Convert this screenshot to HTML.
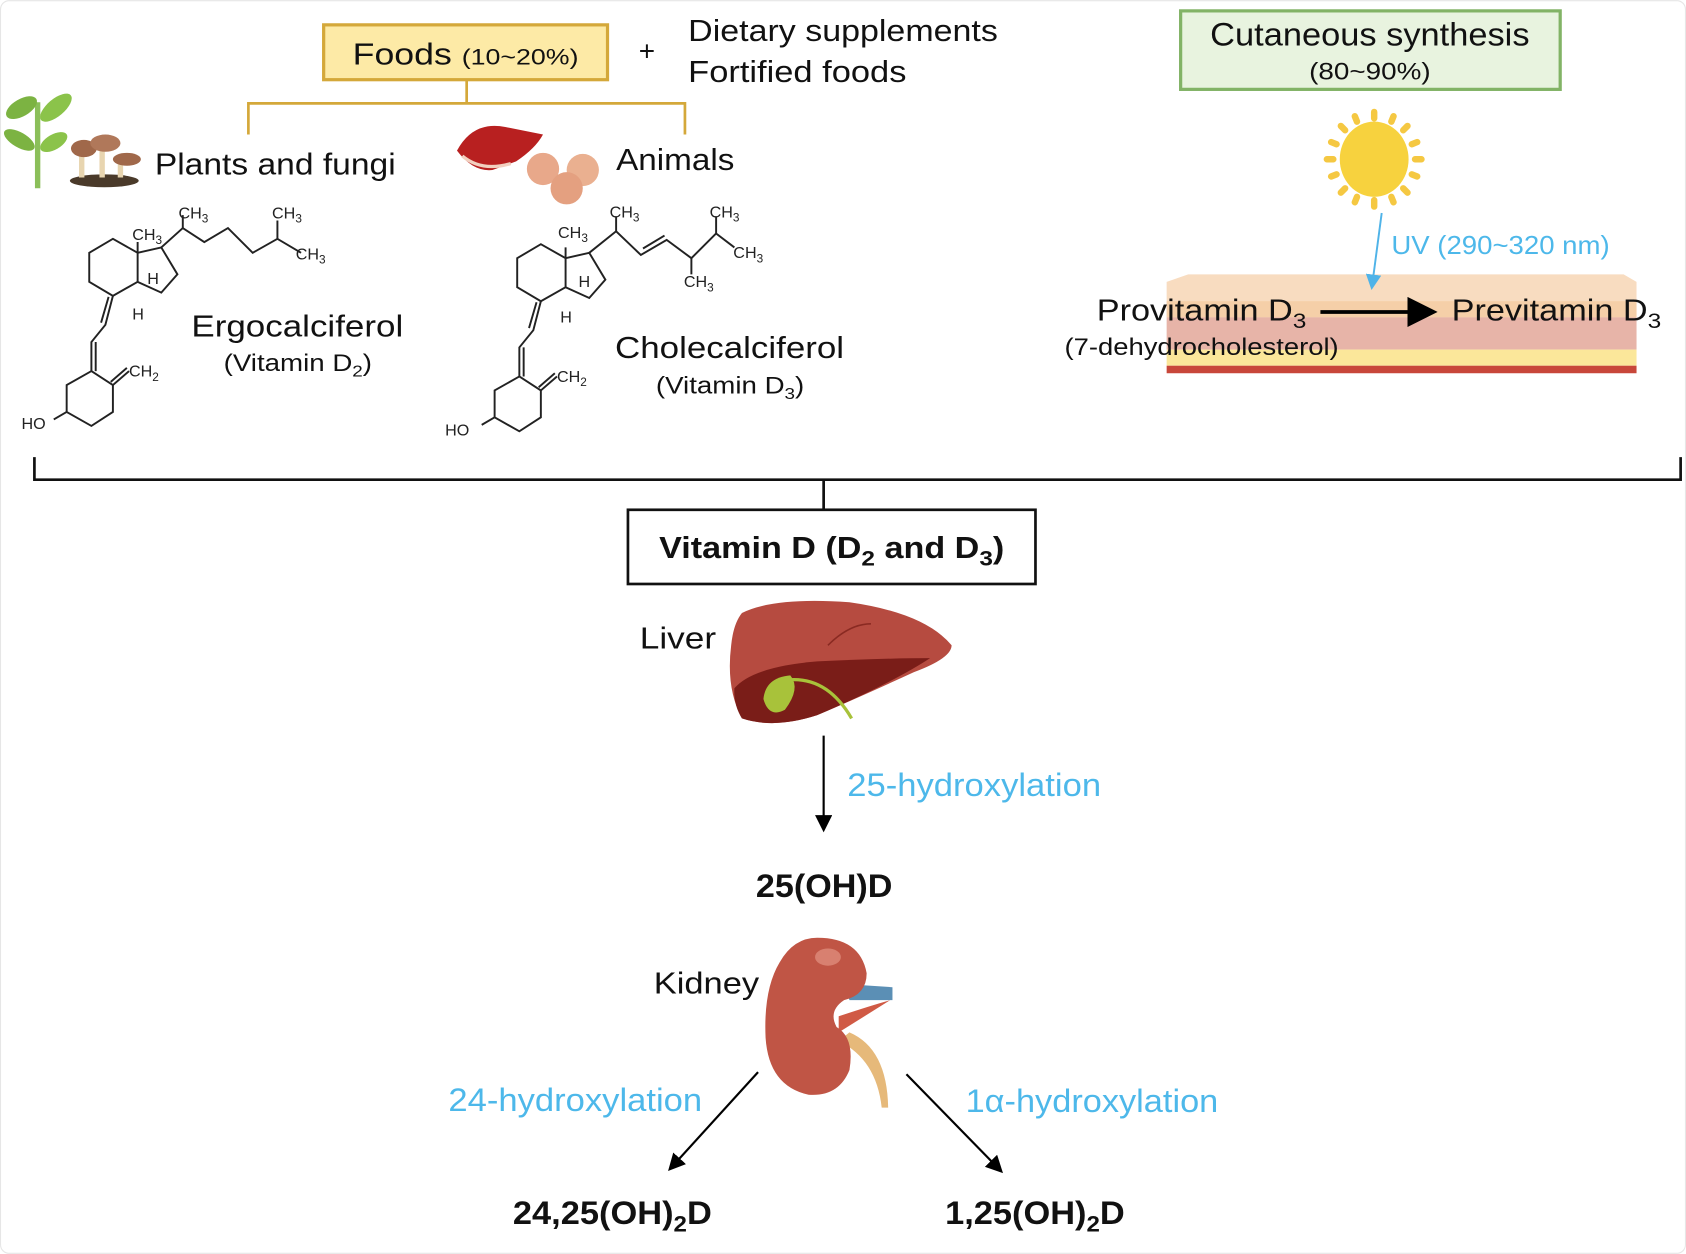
<!DOCTYPE html>
<html><head><meta charset="utf-8"><style>
html,body{margin:0;padding:0;background:#fff;}
svg{display:block;font-family:"Liberation Sans",Arial,sans-serif;}
</style></head><body>
<svg width="1686" height="1254" viewBox="0 0 1568 1166" xmlns="http://www.w3.org/2000/svg">
<defs>
<marker id="ah" markerWidth="8" markerHeight="8" refX="6" refY="4" orient="auto" markerUnits="strokeWidth"><path d="M0,0 L8,4 L0,8 z" fill="#000"/></marker>
<marker id="ahb" markerWidth="8" markerHeight="8" refX="6" refY="4" orient="auto" markerUnits="strokeWidth"><path d="M0,0 L8,4 L0,8 z" fill="#4fb3e8"/></marker>
</defs>
<rect x="0.5" y="0.5" width="1567" height="1165" rx="8" fill="#fff" stroke="#e6e6e6"/>

<!-- Foods -->
<rect x="301" y="23" width="264" height="51" fill="#fdeaa6" stroke="#d4a83a" stroke-width="3"/>
<text x="328" y="60" font-size="28" fill="#111" textLength="210" lengthAdjust="spacingAndGlyphs">Foods <tspan font-size="21">(10~20%)</tspan></text>
<text x="594" y="56" font-size="26" fill="#111">+</text>
<text x="640" y="38" font-size="28" fill="#111" textLength="288" lengthAdjust="spacingAndGlyphs">Dietary supplements</text>
<text x="640" y="76" font-size="28" fill="#111" textLength="203" lengthAdjust="spacingAndGlyphs">Fortified foods</text>
<path d="M434,74 V96 M231,125 V96 H637 V125" fill="none" stroke="#d4a83a" stroke-width="2.5"/>

<!-- plants icon -->
<path d="M35,175 V95" stroke="#8bbf5a" stroke-width="5"/>
<ellipse cx="20" cy="100" rx="16" ry="8" fill="#7cb342" transform="rotate(-30 20 100)"/>
<ellipse cx="52" cy="100" rx="18" ry="8" fill="#8bc34a" transform="rotate(-40 52 100)"/>
<ellipse cx="18" cy="130" rx="16" ry="7" fill="#7cb342" transform="rotate(30 18 130)"/>
<ellipse cx="50" cy="132" rx="14" ry="7" fill="#8bc34a" transform="rotate(-30 50 132)"/>
<ellipse cx="97" cy="168" rx="32" ry="6" fill="#4a3a2a"/>
<path d="M76,165 V140 M95,165 V135 M112,165 V150" stroke="#e8d5b0" stroke-width="5"/>
<ellipse cx="78" cy="138" rx="12" ry="8" fill="#a0684a"/>
<ellipse cx="98" cy="133" rx="14" ry="8" fill="#b0785a"/>
<ellipse cx="118" cy="148" rx="13" ry="6" fill="#a0684a"/>
<text x="144" y="162" font-size="28" fill="#111" textLength="224" lengthAdjust="spacingAndGlyphs">Plants and fungi</text>

<!-- animals icon -->
<path d="M425,140 Q440,112 470,118 L505,125 Q498,138 480,150 L458,158 Q440,160 425,140 z" fill="#b82020"/>
<path d="M430,145 Q448,160 475,152" stroke="#f2d0c0" stroke-width="3" fill="none"/>
<circle cx="505" cy="157" r="15" fill="#e8a88a"/>
<circle cx="542" cy="158" r="15" fill="#eab090"/>
<circle cx="527" cy="175" r="15" fill="#e4a080"/>
<text x="573" y="158" font-size="28" fill="#111" textLength="110" lengthAdjust="spacingAndGlyphs">Animals</text>

<!-- Ergocalciferol structure -->
<g stroke="#222" stroke-width="1.8" fill="none">
<path d="M105,222 L128,235 L128,262 L105,275 L83,262 L83,235 Z"/>
<path d="M128,235 L150,230 L165,255 L150,272 L128,262"/>
<path d="M150,230 L170,212 L190,225 L212,212 L235,235 L258,222 L280,235"/>
<path d="M170,212 V200 M258,222 V205 M128,235 V225"/>
<path d="M105,275 L98,302 L85,318 L85,345 M101,276 L94,300 M89,318 L89,345"/>
<path d="M85,345 L105,358 L105,383 L85,396 L62,383 L62,358 Z"/>
<path d="M105,358 L120,345 M103,355 L118,342"/>
<path d="M62,383 L50,390"/>
</g>
<g font-size="15" fill="#222">
<text x="166" y="203">CH<tspan font-size="11" dy="4">3</tspan></text>
<text x="253" y="203">CH<tspan font-size="11" dy="4">3</tspan></text>
<text x="275" y="241">CH<tspan font-size="11" dy="4">3</tspan></text>
<text x="123" y="223">CH<tspan font-size="11" dy="4">3</tspan></text>
<text x="137" y="264">H</text>
<text x="123" y="297">H</text>
<text x="120" y="350">CH<tspan font-size="11" dy="4">2</tspan></text>
<text x="20" y="399">HO</text>
</g>
<text x="178" y="313" font-size="28" fill="#111" textLength="197" lengthAdjust="spacingAndGlyphs">Ergocalciferol</text>
<text x="208" y="345" font-size="22" fill="#111" textLength="138" lengthAdjust="spacingAndGlyphs">(Vitamin D<tspan font-size="15" dy="5">2</tspan><tspan dy="-5">)</tspan></text>

<!-- Cholecalciferol structure -->
<g transform="translate(398,5)">
<g stroke="#222" stroke-width="1.8" fill="none">
<path d="M105,222 L128,235 L128,262 L105,275 L83,262 L83,235 Z"/>
<path d="M128,235 L150,230 L165,255 L150,272 L128,262"/>
<path d="M150,230 L175,210 L198,232 L222,218 L245,235 L268,212"/>
<path d="M200,226 L220,214"/>
<path d="M175,210 V196 M268,212 V196 M245,235 V250 M268,212 L285,225 M128,235 V225"/>
<path d="M105,275 L98,302 L85,318 L85,345 M101,276 L94,300 M89,318 L89,345"/>
<path d="M85,345 L105,358 L105,383 L85,396 L62,383 L62,358 Z"/>
<path d="M105,358 L120,345 M103,355 L118,342"/>
<path d="M62,383 L50,390"/>
</g>
<g font-size="15" fill="#222">
<text x="169" y="197">CH<tspan font-size="11" dy="4">3</tspan></text>
<text x="262" y="197">CH<tspan font-size="11" dy="4">3</tspan></text>
<text x="284" y="235">CH<tspan font-size="11" dy="4">3</tspan></text>
<text x="238" y="262">CH<tspan font-size="11" dy="4">3</tspan></text>
<text x="121" y="216">CH<tspan font-size="11" dy="4">3</tspan></text>
<text x="140" y="262">H</text>
<text x="123" y="295">H</text>
<text x="120" y="350">CH<tspan font-size="11" dy="4">2</tspan></text>
<text x="16" y="400">HO</text>
</g>
</g>
<text x="572" y="333" font-size="28" fill="#111" textLength="213" lengthAdjust="spacingAndGlyphs">Cholecalciferol</text>
<text x="610" y="366" font-size="22" fill="#111" textLength="138" lengthAdjust="spacingAndGlyphs">(Vitamin D<tspan font-size="15" dy="5">3</tspan><tspan dy="-5">)</tspan></text>

<!-- Cutaneous -->
<rect x="1098" y="10" width="353" height="73" fill="#e8f3df" stroke="#82b366" stroke-width="3"/>
<text x="1274" y="42" font-size="30" fill="#111" text-anchor="middle" textLength="297" lengthAdjust="spacingAndGlyphs">Cutaneous synthesis</text>
<text x="1274" y="74" font-size="22" fill="#111" text-anchor="middle" textLength="113" lengthAdjust="spacingAndGlyphs">(80~90%)</text>
<!-- sun -->
<g fill="#f5c842">
<ellipse cx="1278" cy="148" rx="32" ry="35" fill="#f7d23e"/>
<g stroke="#f5c842" stroke-width="6" stroke-linecap="round">
<path d="M1278,104 V110 M1278,186 V192 M1234,148 H1240 M1316,148 H1322 M1247,117 L1251,121 M1305,175 L1309,179 M1247,179 L1251,175 M1305,121 L1309,117"/>
<path d="M1260,108 L1262,113 M1296,108 L1294,113 M1260,188 L1262,183 M1296,188 L1294,183 M1238,132 L1243,134 M1318,132 L1313,134 M1238,164 L1243,162 M1318,164 L1313,162"/>
</g></g>
<!-- skin -->
<path d="M1085,262 L1105,255 L1510,255 L1522,262 V295 H1085 Z" fill="#f8dcc0"/>
<rect x="1085" y="280" width="437" height="15" fill="#f5cfa8"/>
<rect x="1085" y="295" width="437" height="30" fill="#e7b4a8"/>
<rect x="1085" y="325" width="437" height="15" fill="#fbe79a"/>
<rect x="1085" y="340" width="437" height="7" fill="#c8473a"/>
<line x1="1285" y1="198" x2="1276" y2="266" stroke="#4fb3e8" stroke-width="1.8" marker-end="url(#ahb)"/>
<text x="1294" y="236" font-size="24" fill="#4db8ea" textLength="203" lengthAdjust="spacingAndGlyphs">UV (290~320 nm)</text>
<text x="1020" y="298" font-size="28" fill="#111" textLength="195" lengthAdjust="spacingAndGlyphs">Provitamin D<tspan font-size="20" dy="7">3</tspan></text>
<line x1="1228" y1="290" x2="1330" y2="290" stroke="#000" stroke-width="3.5" marker-end="url(#ah)"/>
<text x="1350" y="298" font-size="28" fill="#111" textLength="195" lengthAdjust="spacingAndGlyphs">Previtamin D<tspan font-size="20" dy="7">3</tspan></text>
<text x="990" y="330" font-size="22" fill="#111" textLength="255" lengthAdjust="spacingAndGlyphs">(7-dehydrocholesterol)</text>

<!-- big bracket -->
<path d="M32,425 V446 H1563 V425 M766,446 V474" fill="none" stroke="#111" stroke-width="2.5"/>
<rect x="584" y="474" width="379" height="69" fill="#fff" stroke="#111" stroke-width="2.5"/>
<text x="613" y="519" font-size="28" font-weight="bold" fill="#111" textLength="321" lengthAdjust="spacingAndGlyphs">Vitamin D (D<tspan font-size="20" dy="7">2</tspan><tspan dy="-7"> and D</tspan><tspan font-size="20" dy="7">3</tspan><tspan dy="-7">)</tspan></text>

<!-- liver -->
<text x="595" y="603" font-size="28" fill="#111" textLength="71" lengthAdjust="spacingAndGlyphs">Liver</text>
<path d="M690,570 Q720,555 790,560 Q860,570 885,600 Q885,612 850,625 Q800,648 760,665 Q720,678 690,668 Q675,640 680,600 Q682,580 690,570 Z" fill="#b64b40"/>
<path d="M683,640 Q700,620 760,615 Q820,612 865,612 Q830,635 760,665 Q720,678 690,668 Q682,655 683,640 Z" fill="#7a1d18"/>
<path d="M710,650 Q712,630 735,628 Q745,640 730,660 Q715,668 710,650 Z" fill="#a8c23a"/>
<path d="M735,632 Q770,630 792,668" stroke="#a8c23a" stroke-width="3" fill="none"/>
<path d="M770,600 Q790,580 810,580" stroke="#8a2a22" stroke-width="1.5" fill="none"/>

<line x1="766" y1="684" x2="766" y2="770" stroke="#000" stroke-width="2" marker-end="url(#ah)"/>
<text x="788" y="740" font-size="30" fill="#4db8ea" textLength="236" lengthAdjust="spacingAndGlyphs">25-hydroxylation</text>
<text x="703" y="834" font-size="30" font-weight="bold" fill="#111" textLength="127" lengthAdjust="spacingAndGlyphs">25(OH)D</text>

<!-- kidney -->
<text x="608" y="924" font-size="28" fill="#111" textLength="98" lengthAdjust="spacingAndGlyphs">Kidney</text>
<path d="M785,915 L830,918 L830,930 L790,930 Z" fill="#5b8fb5"/>
<path d="M780,945 Q810,935 828,930 L780,960 Z" fill="#d05a45"/>
<path d="M790,960 Q825,975 826,1030 L820,1030 Q815,985 780,968 Z" fill="#e6b97a"/>
<path d="M760,872 Q800,872 806,905 Q806,925 785,930 Q770,940 778,955 Q795,965 790,995 Q780,1020 752,1018 Q715,1010 712,965 Q710,920 725,895 Q738,872 760,872 Z" fill="#c05545"/>
<ellipse cx="770" cy="890" rx="12" ry="8" fill="#d88070"/>

<line x1="705" y1="997" x2="624" y2="1086" stroke="#000" stroke-width="2" marker-end="url(#ah)"/>
<line x1="843" y1="999" x2="930" y2="1088" stroke="#000" stroke-width="2" marker-end="url(#ah)"/>
<text x="417" y="1033" font-size="30" fill="#4db8ea" textLength="236" lengthAdjust="spacingAndGlyphs">24-hydroxylation</text>
<text x="898" y="1034" font-size="30" fill="#4db8ea" textLength="235" lengthAdjust="spacingAndGlyphs">1α-hydroxylation</text>
<text x="477" y="1138" font-size="30" font-weight="bold" fill="#111" textLength="185" lengthAdjust="spacingAndGlyphs">24,25(OH)<tspan font-size="21" dy="7">2</tspan><tspan dy="-7">D</tspan></text>
<text x="879" y="1138" font-size="30" font-weight="bold" fill="#111" textLength="167" lengthAdjust="spacingAndGlyphs">1,25(OH)<tspan font-size="21" dy="7">2</tspan><tspan dy="-7">D</tspan></text>
</svg>
</body></html>
